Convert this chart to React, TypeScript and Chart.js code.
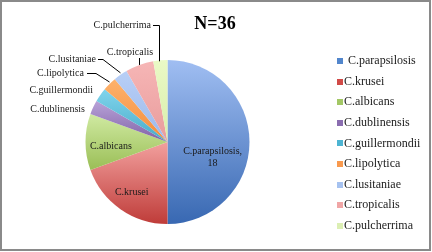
import React, { useEffect, useRef } from "react";
import { Chart, registerables } from "chart.js";

Chart.register(...registerables);

const categories = [
  "C.parapsilosis",
  "C.krusei",
  "C.albicans",
  "C.dublinensis",
  "C.guillermondii",
  "C.lipolytica",
  "C.lusitaniae",
  "C.tropicalis",
  "C.pulcherrima",
];
const counts = [18, 7, 4, 1, 1, 1, 1, 2, 1];
const title = "N=36";

const lightColors = ["#A0BEF2", "#F2A09E", "#D0EAA2", "#B8A2D8", "#80D4EC", "#FDB26C", "#B8CFF6", "#F6B6B6", "#EAF9C6"];
const darkColors = ["#3868B2", "#BF3C39", "#9ABE56", "#8062A6", "#48ABC8", "#F58C3C", "#9DB9EC", "#E99C9C", "#D8EEAA"];
const legendColors = ["#5286CC", "#D14A47", "#A3C765", "#8A6DB0", "#4DB4D2", "#F99A4E", "#A6C2F0", "#F0A6A6", "#DCEFB4"];

const FONT = "'Liberation Serif', serif";

const piePlugin = {
  id: "pieDecor",
  beforeDatasetsDraw(chart: any) {
    const meta = chart.getDatasetMeta(0);
    const c = chart.ctx;
    meta.data.forEach((arc: any, i: number) => {
      const { x, y, startAngle, endAngle, outerRadius } = arc.getProps(["x", "y", "startAngle", "endAngle", "outerRadius"], true);
      let minY = y, maxY = y;
      const steps = 40;
      for (let k = 0; k <= steps; k++) {
        const a = startAngle + ((endAngle - startAngle) * k) / steps;
        const py = y + Math.sin(a) * outerRadius;
        minY = Math.min(minY, py);
        maxY = Math.max(maxY, py);
      }
      const g = c.createLinearGradient(0, minY, 0, maxY);
      g.addColorStop(0, lightColors[i]);
      g.addColorStop(1, darkColors[i]);
      arc.options.backgroundColor = g;
      arc.options.borderColor = g;
    });
  },
  afterDraw(chart: any) {
    const c = chart.ctx;
    const meta = chart.getDatasetMeta(0);
    c.save();
    // frame
    c.strokeStyle = "#8a8a8a";
    c.lineWidth = 2;
    c.strokeRect(1, 1, 429, 249);

    // title
    c.fillStyle = "#000";
    c.font = `bold 18px ${FONT}`;
    c.textAlign = "center";
    c.textBaseline = "middle";
    c.fillText(title, 215, 24);

    const mid = (i: number) => {
      const { x, y, startAngle, endAngle, outerRadius } = meta.data[i].getProps(["x", "y", "startAngle", "endAngle", "outerRadius"], true);
      const a = (startAngle + endAngle) / 2;
      return { x, y, a, r: outerRadius };
    };
    const at = (i: number, f: number) => {
      const m = mid(i);
      return { x: m.x + Math.cos(m.a) * m.r * f, y: m.y + Math.sin(m.a) * m.r * f };
    };

    c.fillStyle = "#1a1a1a";
    c.font = `10px ${FONT}`;
    // inside labels
    c.textAlign = "center";
    const p0 = at(0, 0.55);
    c.fillText(`${categories[0]},`, p0.x, 151);
    c.fillText(String(counts[0]), p0.x, 163);
    const p1 = at(1, 0.76);
    c.fillText(categories[1], p1.x, p1.y - 1);
    const p2 = at(2, 0.69);
    c.fillText(categories[2], p2.x, p2.y + 4);

    // outside labels
    c.textAlign = "right";
    c.fillText(categories[3], 85, 109);
    c.fillText(categories[4], 93, 90);
    c.fillText(categories[5], 84, 73);
    c.fillText(categories[6], 96, 59);
    c.textAlign = "center";
    c.fillText(categories[7], 130, 52);
    c.textAlign = "right";
    c.fillText(categories[8], 151, 25);

    c.strokeStyle = "#000";
    c.lineWidth = 1;
    const e5 = at(5, 1.0);
    c.beginPath();
    c.moveTo(87, 73.5);
    c.lineTo(96, 73.5);
    c.lineTo(e5.x, e5.y - 2);
    c.stroke();
    const e6 = at(6, 1.0);
    c.beginPath();
    c.moveTo(98, 59.5);
    c.lineTo(103, 59.5);
    c.lineTo(e6.x, e6.y - 2);
    c.stroke();
    const e7 = at(7, 1.0);
    c.beginPath();
    c.moveTo(Math.round(e7.x) + 0.5, 58);
    c.lineTo(Math.round(e7.x) + 0.5, e7.y);
    c.stroke();
    const e8 = at(8, 1.0);
    c.beginPath();
    c.moveTo(153, 25.5);
    c.lineTo(Math.round(e8.x) - 0.5, 25.5);
    c.lineTo(Math.round(e8.x) - 0.5, e8.y + 1);
    c.stroke();

    // legend
    c.textAlign = "left";
    c.font = `12px ${FONT}`;
    categories.forEach((name, i) => {
      const yy = 61 + i * 20.6;
      c.fillStyle = legendColors[i];
      c.fillRect(337, Math.round(yy) - 3, 6, 6);
      c.fillStyle = "#1a1a1a";
      c.fillText(name, i === 0 ? 348 : 344, yy);
    });
    c.restore();
  },
};

export default function App() {
  const ref = useRef<HTMLCanvasElement>(null);
  useEffect(() => {
    if (!ref.current) return;
    const chart = new Chart(ref.current, {
      type: "pie",
      data: {
        labels: categories,
        datasets: [
          {
            data: counts,
            backgroundColor: darkColors,
            borderWidth: 0,
          },
        ],
      },
      options: {
        animation: false,
        responsive: false,
        layout: { padding: { left: 85, right: 182, top: 60, bottom: 28 } },
        plugins: {
          legend: { display: false },
          tooltip: { enabled: false },
          title: { display: false },
        },
      },
      plugins: [piePlugin],
    });
    return () => chart.destroy();
  }, []);
  return (
    <div style={{ position: "fixed", left: 0, top: 0, width: 432, height: 252, background: "#fff" }}>
      <canvas ref={ref} width={432} height={252} style={{ width: 432, height: 252, display: "block" }} />
    </div>
  );
}
